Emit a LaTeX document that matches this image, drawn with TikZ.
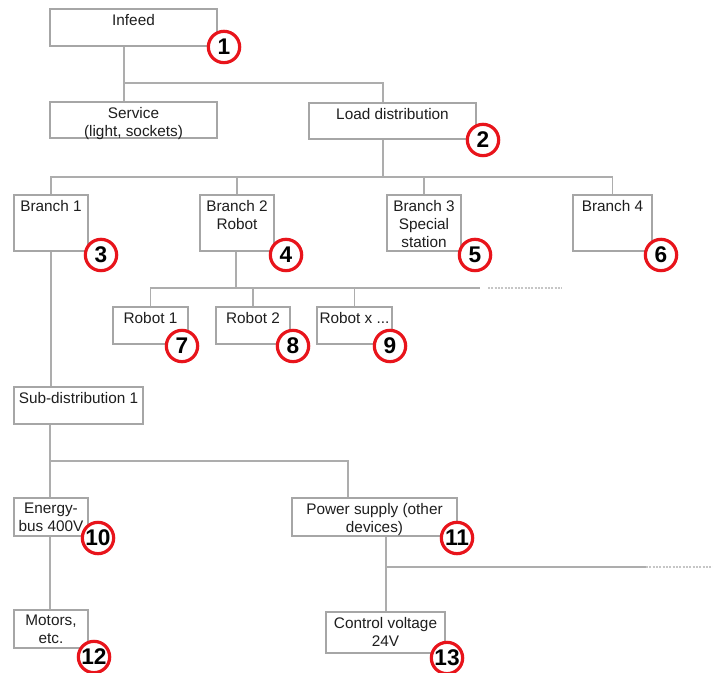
\documentclass[tikz,border=0pt]{standalone}
\usepackage{fontspec}
\setmainfont{Liberation Sans}
\usetikzlibrary{fit}
\definecolor{boxgray}{HTML}{A6A6A6}
\definecolor{wiregray}{HTML}{ADADAD}
\definecolor{ringred}{HTML}{E8141B}
\definecolor{inkgray}{HTML}{1E1E1E}

\begin{document}
\begin{tikzpicture}[x=0.75pt,y=-0.75pt,
	box/.style={draw=boxgray, line width=0.8pt, inner sep=0pt, fill=white},
	lbl/.style={anchor=north, align=center, inner xsep=3pt, inner ysep=4.2pt, text=inkgray, font=\fontsize{11.5}{13.5}\selectfont},
	wire/.style={draw=wiregray, line width=0.9pt},
	more/.style={draw=wiregray!70, line width=0.9pt, dash pattern=on 1.5pt off 1pt},
	badge/.style={circle, draw=ringred, fill=white, line width=2.4pt, minimum size=23.5pt, inner sep=0pt, font=\fontsize{17}{17}\bfseries\selectfont}]
	\fill[white] (0,0) rectangle (713,673);
	\useasboundingbox (0,0) rectangle (713,673);
	
	% boxes
	\node[box, fit={(50,9) (217,46)}, label={[lbl]north:Infeed}] (infeed) {};
	\node[box, fit={(50,102) (217,138)}, label={[lbl]north:{Service\\(light, sockets)}}] (service) {};
	\node[box, fit={(309,103) (476,139)}, label={[lbl]north:Load distribution}] (loaddist) {};
	
	\node[box, fit={(14,195) (88,251)}, label={[lbl]north:Branch 1}] (branch1) {};
	\node[box, fit={(200,195) (274,251)}, label={[lbl]north:{Branch 2\\Robot}}] (branch2) {};
	\node[box, fit={(387,195) (461,251)}, label={[lbl]north:{Branch 3\\Special\\station}}] (branch3) {};
	\node[box, fit={(573,195) (652,251)}, label={[lbl]north:Branch 4}] (branch4) {};
	
	\node[box, fit={(113,307) (188,344)}, label={[lbl]north:Robot 1}] (robot1) {};
	\node[box, fit={(216,307) (290,344)}, label={[lbl]north:Robot 2}] (robot2) {};
	\node[box, fit={(317,307) (392,344)}, label={[lbl]north:Robot x ...}] (robotx) {};
	
	\node[box, fit={(14,387) (143,424)}, label={[lbl]north:Sub-distribution 1}] (subdist) {};
	\node[box, fit={(14,498) (88,536)}, label={[lbl]north:{Energy-\\bus 400V}}] (ebus) {};
	\node[box, fit={(292,498) (457,536)}, label={[lbl]north:{Power supply (other\\devices)}}] (psupply) {};
	\node[box, fit={(14,610) (88,648)}, label={[lbl]north:{Motors,\\etc.}}] (motors) {};
	\node[box, fit={(326,612) (445,653)}, label={[lbl]north:{Control voltage\\24V}}] (ctrlvolt) {};
	
	% junctions
	\coordinate (j1) at (124,83);
	\coordinate (j2) at (383,83);
	\coordinate (j3) at (383,177);
	\coordinate (j4) at (236,288);
	\coordinate (j5) at (480,288);
	\coordinate (e1) at (488,288);
	\coordinate (e2) at (562,288);
	\coordinate (j6) at (50,461);
	\coordinate (j7) at (348,461);
	\coordinate (j8) at (386,567);
	\coordinate (j9) at (646,567);
	\coordinate (e3) at (713,567);
	
	% wiring
	\draw[wire] (infeed.south -| j1) -- (service.north -| j1);
	\draw[wire] (j1) -- (j2) -- (loaddist.north -| j2);
	\draw[wire] (loaddist.south -| j3) -- (j3);
	\draw[wire] (branch1.north) |- (j3);
	\draw[wire] (branch4.north) |- (j3);
	\draw[wire] (branch2.north) -- (branch2.north |- j3);
	\draw[wire] (branch3.north) -- (branch3.north |- j3);
	
	\draw[wire] (branch2.south -| j4) -- (j4);
	\draw[wire] (robot1.north) |- (j5);
	\draw[wire] (robot2.north) -- (robot2.north |- j4);
	\draw[wire] (robotx.north) -- (robotx.north |- j4);
	\draw[more] (e1) -- (e2);
	
	\draw[wire] (branch1.south) -- (subdist.north -| branch1.south);
	\draw[wire] (subdist.south -| j6) -- (ebus.north -| j6);
	\draw[wire] (j6) -- (j7) -- (psupply.north -| j7);
	\draw[wire] (ebus.south -| j6) -- (motors.north -| j6);
	\draw[wire] (psupply.south -| j8) -- (ctrlvolt.north -| j8);
	\draw[wire] (j8) -- (j9);
	\draw[more] (j9) -- (e3);
	
	% numbers
	\node[badge] (n1) at (224,47) {1};
	\node[badge] (n2) at (483,140) {2};
	\node[badge] (n3) at (101,255) {3};
	\node[badge] (n4) at (286,255) {4};
	\node[badge] (n5) at (475,255) {5};
	\node[badge] (n6) at (661,255) {6};
	\node[badge] (n7) at (182,346) {7};
	\node[badge] (n8) at (293,346) {8};
	\node[badge] (n9) at (390,346) {9};
	\node[badge] (n10) at (98,538) {10};
	\node[badge] (n11) at (457,538) {11};
	\node[badge] (n12) at (94,657) {12};
	\node[badge] (n13) at (447,658) {13};
\end{tikzpicture}
\end{document}
